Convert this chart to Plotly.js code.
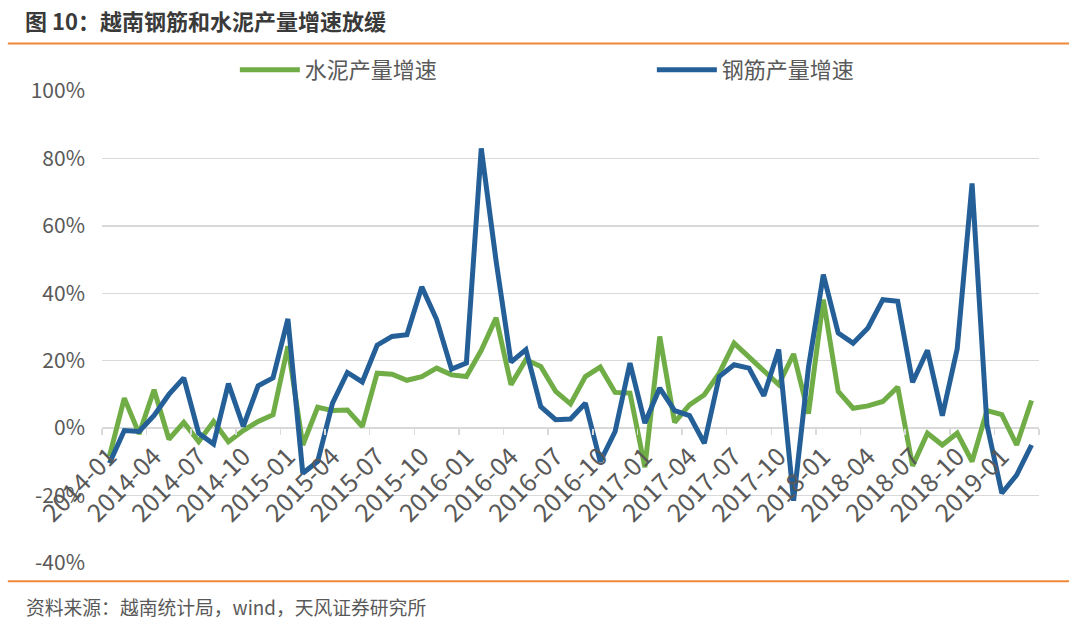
<!DOCTYPE html>
<html>
<head>
<meta charset="utf-8">
<script src="https://cdn.plot.ly/plotly-3.0.1.min.js"></script>
<style>html,body{margin:0;padding:0;background:#fff;}#chart{width:1080px;height:622px;}</style>
</head>
<body>
<div id="chart"></div>
<script>
const months = [
  "2014-01","2014-02","2014-03","2014-04","2014-05","2014-06","2014-07","2014-08","2014-09","2014-10","2014-11","2014-12",
  "2015-01","2015-02","2015-03","2015-04","2015-05","2015-06","2015-07","2015-08","2015-09","2015-10","2015-11","2015-12",
  "2016-01","2016-02","2016-03","2016-04","2016-05","2016-06","2016-07","2016-08","2016-09","2016-10","2016-11","2016-12",
  "2017-01","2017-02","2017-03","2017-04","2017-05","2017-06","2017-07","2017-08","2017-09","2017-10","2017-11","2017-12",
  "2018-01","2018-02","2018-03","2018-04","2018-05","2018-06","2018-07","2018-08","2018-09","2018-10","2018-11","2018-12",
  "2019-01","2019-02","2019-03"
];
const cementGrowth = [
  -8.4, 8.9, -1.7, 11.4, -3.3, 1.7, -4.0, 2.0, -4.0, -0.7, 2.0, 4.0,
  24.3, -5.0, 6.2, 5.2, 5.4, 0.5, 16.3, 16.0, 14.2, 15.3, 17.8, 15.8,
  15.3, 23.1, 32.7, 12.9, 20.3, 18.3, 10.9, 7.2, 15.3, 18.1, 10.6, 10.4,
  -11.6, 27.2, 1.7, 6.9, 9.9, 16.3, 25.2, 21.1, 16.8, 12.9, 22.0, 4.3,
  38.1, 10.9, 5.9, 6.6, 7.9, 12.2, -11.2, -1.5, -5.0, -1.5, -9.9, 5.2,
  4.0, -5.0, 8.2
];
const steelGrowth = [
  -10.4, -0.7, -1.0, 3.8, 10.0, 14.9, -1.5, -4.7, 13.2, 0.5, 12.6, 14.9,
  32.4, -13.4, -9.9, 7.4, 16.5, 13.7, 24.6, 27.2, 27.7, 41.9, 32.2, 17.5,
  19.3, 83.0, 49.5, 19.6, 23.3, 6.4, 2.5, 2.7, 7.4, -9.9, -1.0, 19.3,
  1.5, 11.9, 5.2, 3.7, -4.5, 15.3, 18.8, 17.8, 9.6, 23.3, -21.5, 18.0,
  45.5, 28.2, 25.2, 29.7, 38.1, 37.6, 13.6, 23.1, 3.7, 23.5, 72.6, 1.0,
  -19.3, -13.9, -5.0
];
const seriesNames = ["水泥产量增速", "钢筋产量增速"];
const yTickVals = [-40, -20, 0, 20, 40, 60, 80, 100];
const yTickText = ["-40%", "-20%", "0%", "20%", "40%", "60%", "80%", "100%"];
const titleText = "图 10：越南钢筋和水泥产量增速放缓";
const sourceText = "资料来源：越南统计局，wind，天风证券研究所";

const FONT = '"Noto Sans CJK SC", "Noto Sans", sans-serif';
const GRAY = '#595959';

const traces = [
  {x: months, y: cementGrowth, name: seriesNames[0], type: 'scatter', mode: 'lines',
   line: {color: '#70AD47', width: 5, shape: 'linear'}},
  {x: months, y: steelGrowth, name: seriesNames[1], type: 'scatter', mode: 'lines',
   line: {color: '#245F98', width: 5, shape: 'linear'}}
];

const layout = {
  width: 1080, height: 622,
  paper_bgcolor: '#ffffff', plot_bgcolor: '#ffffff',
  margin: {l: 102, r: 40, t: 91, b: 59},
  font: {family: FONT, color: GRAY, size: 21},
  title: {text: '<b>' + titleText + '</b>', xref: 'container', yref: 'container',
          x: 25/1080, xanchor: 'left', y: 1 - 22/622, yanchor: 'middle',
          font: {family: FONT, size: 22, color: '#3A3A3A'}},
  showlegend: true,
  legend: {orientation: 'h', x: 0.5862, xanchor: 'center', y: 1.0445, yanchor: 'middle',
           font: {family: FONT, size: 22, color: GRAY}, bgcolor: 'rgba(0,0,0,0)',
           entrywidth: 342, entrywidthmode: 'pixels', itemwidth: 60},
  xaxis: {type: 'category', anchor: 'free', position: 40/140,
          range: [-0.5, months.length - 0.5],
          tickson: 'boundaries', dtick: 3, tick0: 0,
          ticks: 'outside', ticklen: 6, tickcolor: '#D9D9D9', tickwidth: 1.5,
          tickangle: -45, ticklabelstandoff: 8, tickfont: {family: FONT, size: 25, color: GRAY},
          showgrid: false, showline: false, zeroline: false, fixedrange: true},
  yaxis: {range: [-40, 100], tickvals: yTickVals, ticktext: yTickText,
          showgrid: true, gridcolor: '#D9D9D9', gridwidth: 1.5,
          zeroline: false, showline: false, ticks: '', ticklabelstandoff: 16,
          tickfont: {family: FONT, size: 21, color: GRAY}, fixedrange: true},
  shapes: [
    {type: 'line', xref: 'paper', yref: 'paper', x0: -0.1005, x1: 1.032, y0: 1.1006, y1: 1.1006,
     line: {color: '#F0883A', width: 2}},
    {type: 'line', xref: 'paper', yref: 'paper', x0: -0.1005, x1: 1.032, y0: -0.0385, y1: -0.0385,
     line: {color: '#F0883A', width: 2}}
  ],
  annotations: [
    {text: sourceText, xref: 'paper', yref: 'paper', x: -0.0835, xanchor: 'left',
     y: -0.0917, yanchor: 'middle', showarrow: false,
     font: {family: FONT, size: 18.8, color: GRAY}}
  ]
};

Plotly.newPlot('chart', traces, layout, {displayModeBar: false, staticPlot: true});
</script>
</body>
</html>
